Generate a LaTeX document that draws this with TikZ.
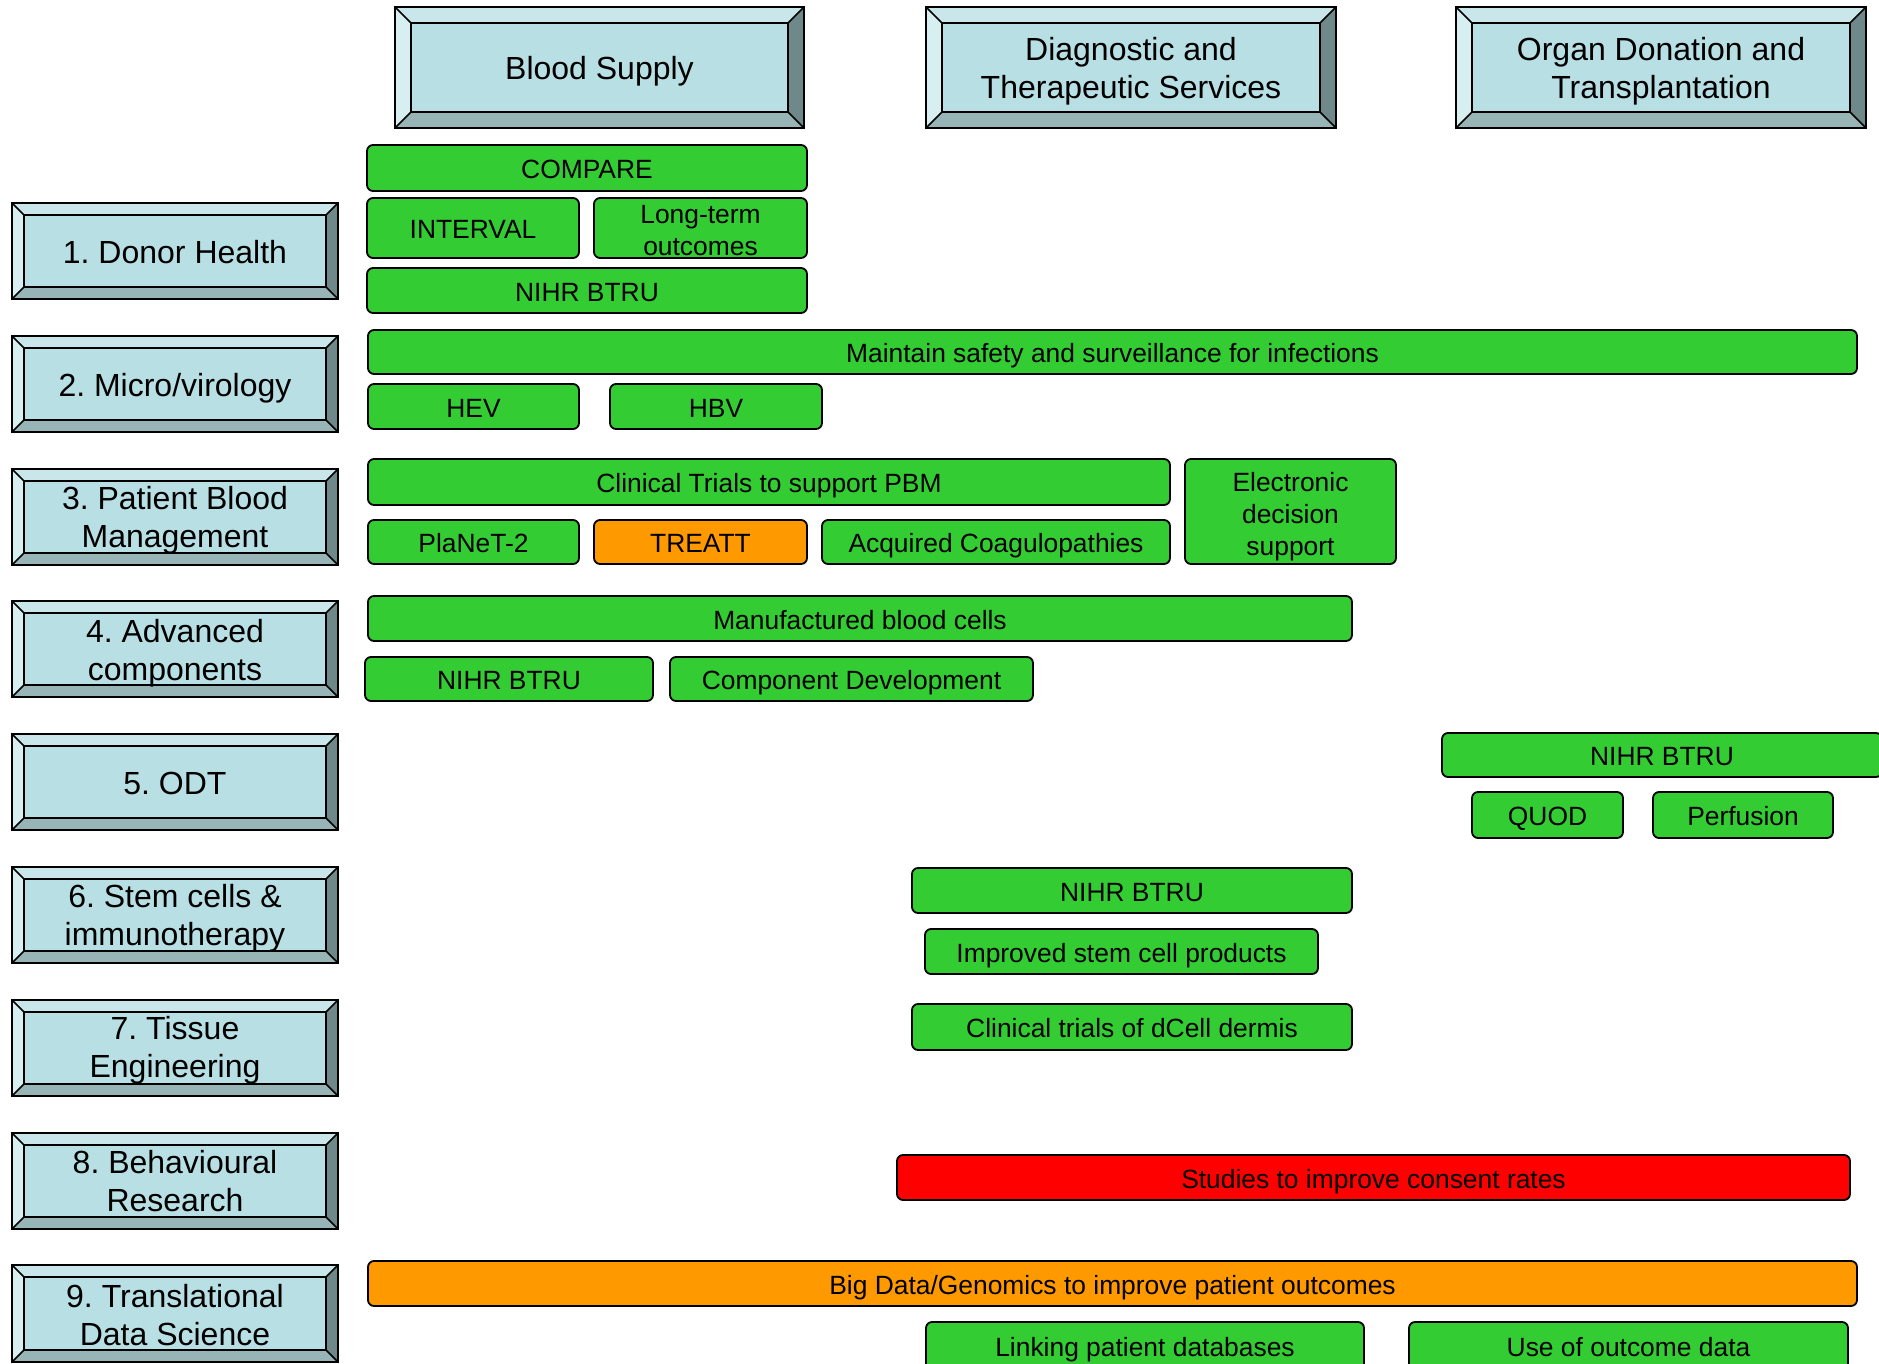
\documentclass[tikz,border=0pt]{standalone}
\usepackage{fontspec}
\setmainfont{Liberation Sans}
\frenchspacing
\definecolor{bvface}{HTML}{B8DFE3}
\definecolor{bvtop}{HTML}{C9E7EA}
\definecolor{bvleft}{HTML}{D8EFF1}
\definecolor{bvbot}{HTML}{97B4B7}
\definecolor{bvright}{HTML}{6F898A}
\definecolor{gfill}{HTML}{33CC33}
\definecolor{ofill}{HTML}{FF9900}
\definecolor{rfill}{HTML}{FF0000}
\tikzset{
  bvline/.style={draw=black, line width=0.8pt},
  bvtext/.style={font=\fontsize{16}{19}\selectfont, align=center, inner sep=0pt},
  bsl/.style={text height=13.86pt, text depth=1.5pt},
  gbox/.style={draw=black, line width=0.9pt, rounded corners=3pt, inner sep=0pt, outer sep=0pt},
  gtext/.style={font=\fontsize{13.2}{15.8}\selectfont, align=center, inner sep=0pt},
  gsl/.style={text height=11.45pt, text depth=0.5pt},
  ml/.style={yshift=-1.5pt},
}
\newcommand\bevbox[8][bsl]{%
  \fill[bvtop] (#3,#4) -- (#5,#4) -- ({#5-#7},{#4+#7}) -- ({#3+#7},{#4+#7}) -- cycle;
  \fill[bvleft] (#3,#4) -- ({#3+#7},{#4+#7}) -- ({#3+#7},{#6-#7}) -- (#3,#6) -- cycle;
  \fill[bvbot] (#3,#6) -- ({#3+#7},{#6-#7}) -- ({#5-#7},{#6-#7}) -- (#5,#6) -- cycle;
  \fill[bvright] (#5,#4) -- ({#5-#7},{#4+#7}) -- ({#5-#7},{#6-#7}) -- (#5,#6) -- cycle;
  \draw[bvline, fill=bvface] ({#3+#7},{#4+#7}) rectangle ({#5-#7},{#6-#7});
  \draw[bvline] (#3,#4) -- ({#3+#7},{#4+#7}) (#5,#4) -- ({#5-#7},{#4+#7})
    (#3,#6) -- ({#3+#7},{#6-#7}) (#5,#6) -- ({#5-#7},{#6-#7});
  \draw[bvline] (#3,#4) rectangle (#5,#6);
  \node[bvtext, #1] (#2) at ({(#3+#5)/2},{(#4+#6)/2}) {#8};
}
\newcommand\gbx[8][gsl]{%
  \node[gbox, fill=#7, minimum width={(#5-#3)*0.5pt}, minimum height={(#6-#4)*0.5pt}]
    (#2) at ({(#3+#5)/2},{(#4+#6)/2}) {};
  \node[gtext, #1] (#2-t) at (#2.center) {#8};
}
\begin{document}
\begin{tikzpicture}[x=0.5pt,y=-0.5pt]
\useasboundingbox (0,0) rectangle (1879,1364);
\fill[white] (0,0) rectangle (1879,1364);
% column headers
\bevbox{hblood}{395}{7}{804}{128}{16}{Blood Supply}
\bevbox[ml, yshift=-0.4pt]{hdiag}{926}{7}{1336}{128}{16}{Diagnostic and\\Therapeutic Services}
\bevbox[ml, yshift=-0.4pt]{horgan}{1456}{7}{1866}{128}{16}{Organ Donation and\\Transplantation}
% row labels
\bevbox{r1}{12}{203}{338}{299}{12}{1. Donor Health}
\bevbox{r2}{12}{336}{338}{432}{12}{2. Micro/virology}
\bevbox[ml]{r3}{12}{469}{338}{565}{12}{3. Patient Blood\\Management}
\bevbox[ml, yshift=-0.5pt]{r4}{12}{601}{338}{697}{12}{4. Advanced\\components}
\bevbox{r5}{12}{734}{338}{830}{12}{5. ODT}
\bevbox[ml]{r6}{12}{867}{338}{963}{12}{6. Stem cells \&\\immunotherapy}
\bevbox[ml, yshift=0.5pt]{r7}{12}{1000}{338}{1096}{12}{7. Tissue\\Engineering}
\bevbox[ml, yshift=1.6pt]{r8}{12}{1133}{338}{1229}{12}{8. Behavioural\\Research}
\bevbox[ml, yshift=0.5pt]{r9}{12}{1265}{338}{1362}{12}{9. Translational\\Data Science}
% row 1
\gbx{compare}{367}{145}{807}{191}{gfill}{COMPARE}
\gbx{interval}{367}{198}{579}{258}{gfill}{INTERVAL}
\gbx[yshift=-1.2pt]{longterm}{594}{198}{807}{258}{gfill}{Long-term\\outcomes}
\gbx{btrua}{367}{268}{807}{313}{gfill}{NIHR BTRU}
% row 2
\gbx{safety}{368}{330}{1857}{374}{gfill}{Maintain safety and surveillance for infections}
\gbx{hev}{368}{384}{579}{429}{gfill}{HEV}
\gbx{hbv}{610}{384}{822}{429}{gfill}{HBV}
% row 3
\gbx{pbm}{368}{459}{1170}{505}{gfill}{Clinical Trials to support PBM}
\gbx{planet}{368}{520}{579}{564}{gfill}{PlaNeT-2}
\gbx{treatt}{594}{520}{807}{564}{ofill}{TREATT}
\gbx{coag}{822}{520}{1170}{564}{gfill}{Acquired Coagulopathies}
\gbx[yshift=-2.6pt, font=\fontsize{13.2}{16.2}\selectfont]{eds}{1185}{459}{1396}{564}{gfill}{Electronic\\decision\\support}
% row 4
\gbx{manuf}{368}{596}{1352}{641}{gfill}{Manufactured blood cells}
\gbx{btrub}{365}{657}{653}{701}{gfill}{NIHR BTRU}
\gbx{compdev}{670}{657}{1033}{701}{gfill}{Component Development}
% row 5
\gbx{btruc}{1442}{733}{1882}{777}{gfill}{NIHR BTRU}
\gbx{quod}{1472}{792}{1623}{838}{gfill}{QUOD}
\gbx{perf}{1653}{792}{1833}{838}{gfill}{Perfusion}
% row 6
\gbx{btrud}{912}{868}{1352}{913}{gfill}{NIHR BTRU}
\gbx{stem}{925}{929}{1318}{974}{gfill}{Improved stem cell products}
% row 7
\gbx{dcell}{912}{1004}{1352}{1050}{gfill}{Clinical trials of dCell dermis}
% row 8
\gbx{consent}{897}{1155}{1850}{1200}{rfill}{Studies to improve consent rates}
% row 9
\gbx{bigdata}{368}{1261}{1857}{1306}{ofill}{Big Data/Genomics to improve patient outcomes}
\gbx{linking}{926}{1322}{1364}{1370}{gfill}{Linking patient databases}
\gbx{outcome}{1409}{1322}{1848}{1370}{gfill}{Use of outcome data}
\end{tikzpicture}
\end{document}
